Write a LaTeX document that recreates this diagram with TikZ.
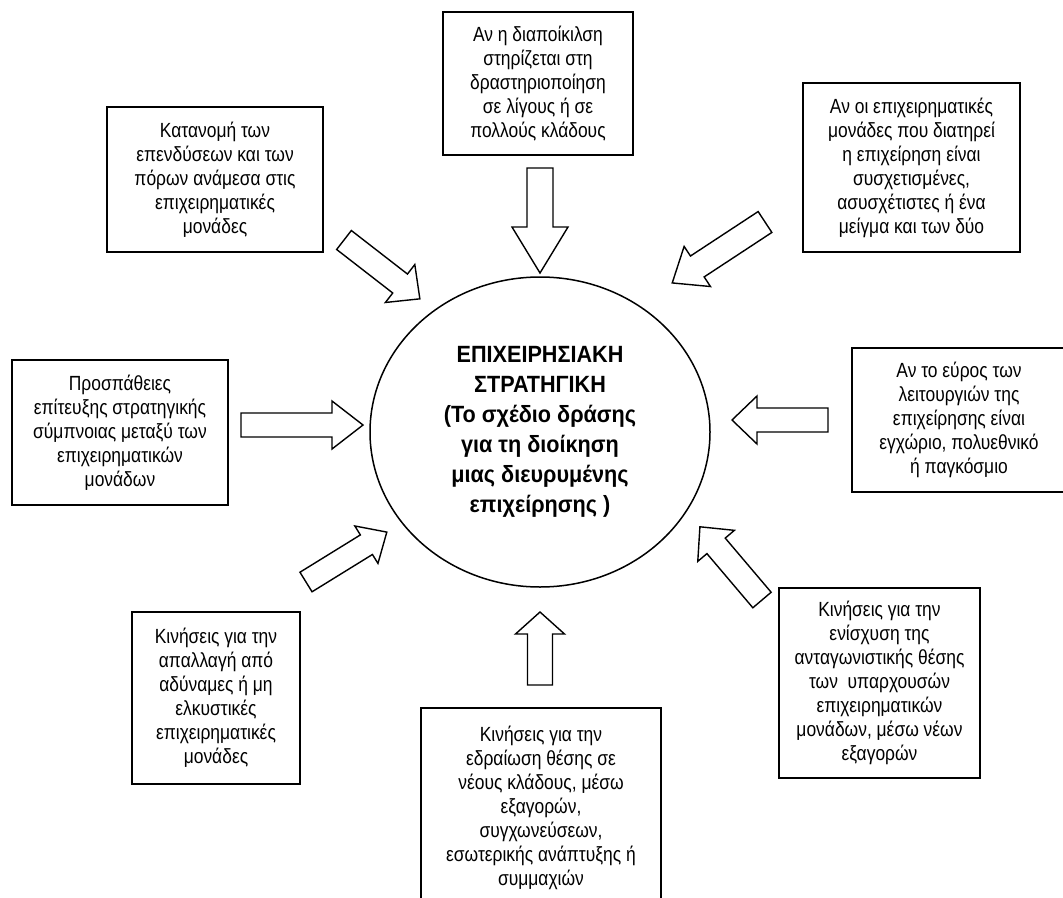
\documentclass[tikz,border=0pt]{standalone}
\usepackage{fontspec}
\setmainfont{Liberation Sans}
\newfontfamily\boxfont[FakeStretch=0.85]{Liberation Sans}
\newfontfamily\corefont[FakeStretch=0.92]{Liberation Sans}
\usetikzlibrary{shapes.geometric}

\tikzset{
  box/.style={draw, line width=1.5pt, rectangle, align=center, inner sep=0pt,
    font=\boxfont\fontsize{20.5}{24}\selectfont},
  core/.style={draw, line width=1.5pt, ellipse, align=center, inner sep=0pt,
    font=\corefont\bfseries\fontsize{23.5}{30}\selectfont},
  % hollow block arrow: length, shaft width, head width, head length
  pics/fatarrow/.style n args={4}{code={
    \draw[line width=1.4pt, fill=white, line join=miter]
      (0,-#2/2) -- ({#1-#4},-#2/2) -- ({#1-#4},-#3/2) -- (#1,0)
      -- ({#1-#4},#3/2) -- ({#1-#4},#2/2) -- (0,#2/2) -- cycle;
  }}
}

\begin{document}
\begin{tikzpicture}[x=1pt, y=-1pt]
\clip (0,0) rectangle (1063,897);
\fill[white] (0,0) rectangle (1063,897);

% central ellipse
\node[core, minimum width=340pt, minimum height=310pt] (core) at (540,432)
  {ΕΠΙΧΕΙΡΗΣΙΑΚΗ\\ΣΤΡΑΤΗΓΙΚΗ\\(Το σχέδιο δράσης\\για τη διοίκηση\\μιας διευρυμένης\\επιχείρησης )};

% surrounding boxes
\node[box, minimum width=190pt, minimum height=143pt] (top) at (538,83.5)
  {Αν η διαποίκιλση\\στηρίζεται στη\\δραστηριοποίηση\\σε λίγους ή σε\\πολλούς κλάδους};
\node[box, minimum width=216pt, minimum height=145pt] (topleft) at (215,179.5)
  {Κατανομή των\\επενδύσεων και των\\πόρων ανάμεσα στις\\επιχειρηματικές\\μονάδες};
\node[box, minimum width=217pt, minimum height=169pt] (topright) at (911.5,167.5)
  {Αν οι επιχειρηματικές\\μονάδες που διατηρεί\\η επιχείρηση είναι\\συσχετισμένες,\\ασυσχέτιστες ή ένα\\μείγμα και των δύο};
\node[box, minimum width=216pt, minimum height=145pt] (left) at (120,432.5)
  {Προσπάθειες\\επίτευξης στρατηγικής\\σύμπνοιας μεταξύ των\\επιχειρηματικών\\μονάδων};
\node[box, minimum width=214pt, minimum height=144pt] (right) at (959,420)
  {Αν το εύρος των\\λειτουργιών της\\επιχείρησης είναι\\εγχώριο, πολυεθνικό\\ή παγκόσμιο};
\node[box, minimum width=201pt, minimum height=190pt] (botright) at (879.5,683)
  {Κινήσεις για την\\ενίσχυση της\\ανταγωνιστικής θέσης\\των\ \ υπαρχουσών\\επιχειρηματικών\\μονάδων, μέσω νέων\\εξαγορών};
\node[box, minimum width=168pt, minimum height=172pt] (botleft) at (216,698)
  {Κινήσεις για την\\απαλλαγή από\\αδύναμες ή μη\\ελκυστικές\\επιχειρηματικές\\μονάδες};
\node[box, minimum width=240pt, minimum height=199pt] (bottom) at (541,807.5)
  {Κινήσεις για την\\εδραίωση θέσης σε\\νέους κλάδους, μέσω\\εξαγορών,\\συγχωνεύσεων,\\εσωτερικής ανάπτυξης ή\\συμμαχιών};

% tails of the block arrows
\coordinate (tTop) at (540,168);
\coordinate (tTopLeft) at (344,240);
\coordinate (tTopRight) at (765,222);
\coordinate (tLeft) at (241,425);
\coordinate (tRight) at (828,420);
\coordinate (tBotLeft) at (306,582);
\coordinate (tBottom) at (540,685);
\coordinate (tBotRight) at (762,600);

% block arrows pointing at the ellipse
\pic[rotate=-90]    at (tTop)      {fatarrow={105}{26}{56}{46}};
\pic[rotate=-37.8]  at (tTopLeft)  {fatarrow={96}{24}{48}{25}};
\pic[rotate=-146.7] at (tTopRight) {fatarrow={111}{25}{48}{30}};
\pic[rotate=0]      at (tLeft)     {fatarrow={122}{24}{48}{31}};
\pic[rotate=180]    at (tRight)    {fatarrow={96}{24}{48}{25}};
\pic[rotate=31.7]   at (tBotLeft)  {fatarrow={95}{23}{44}{24}};
\pic[rotate=90]     at (tBottom)   {fatarrow={73}{25}{49}{22}};
\pic[rotate=130.3]  at (tBotRight) {fatarrow={96}{24}{48}{25}};
\end{tikzpicture}
\end{document}
